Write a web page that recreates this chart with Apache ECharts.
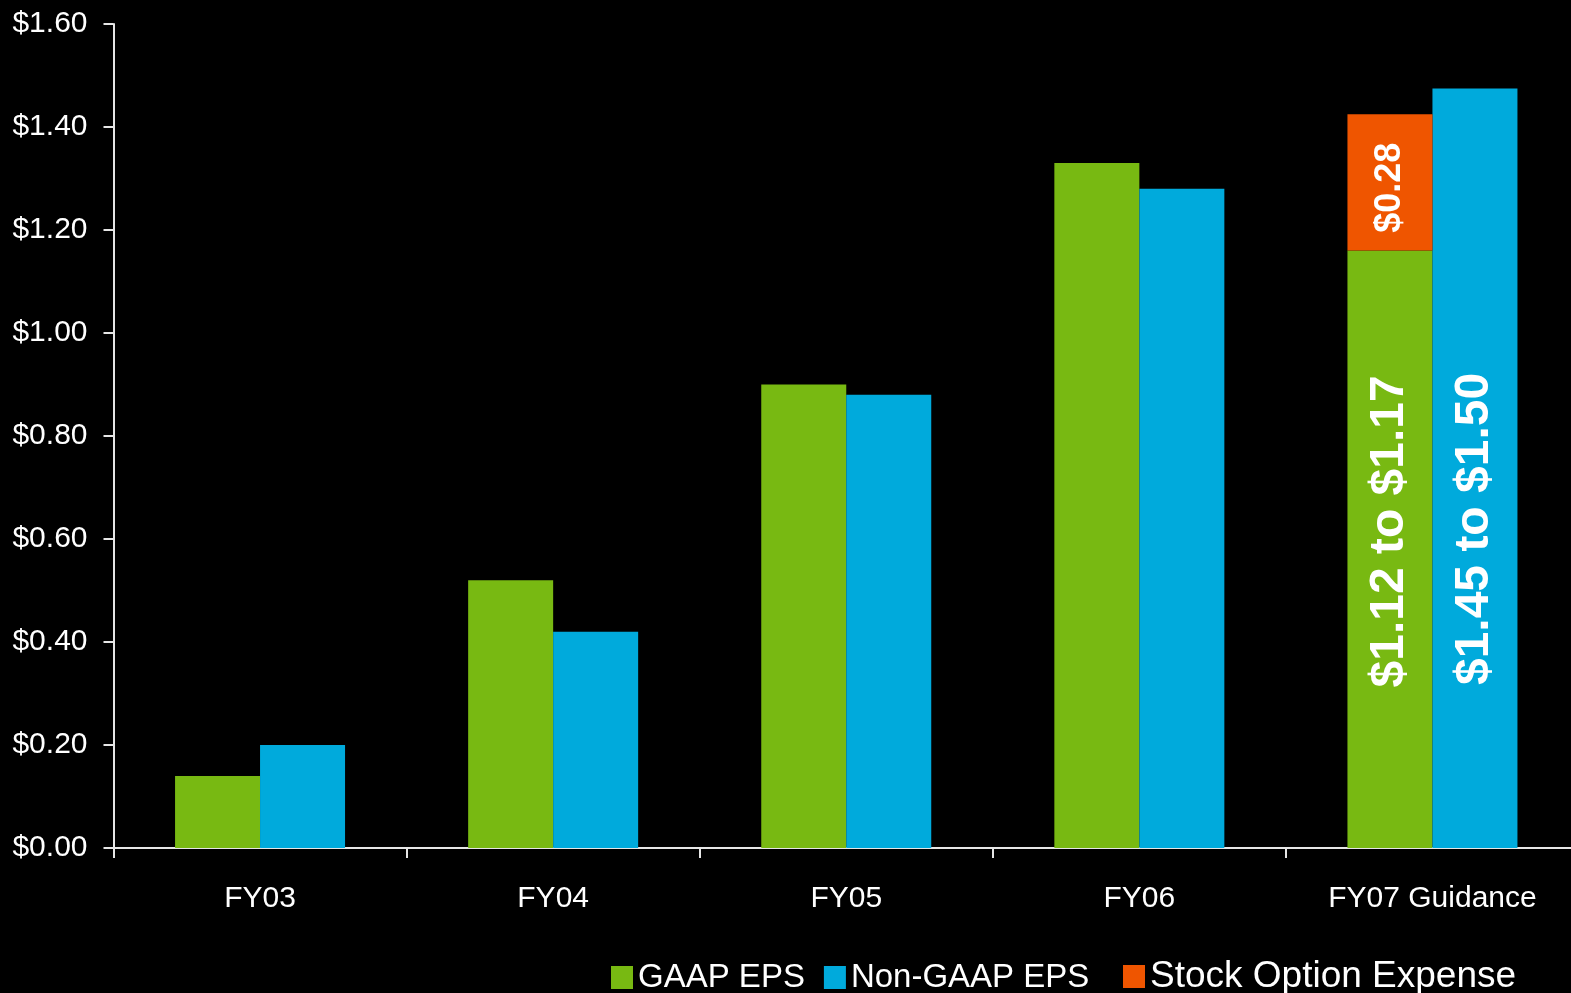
<!DOCTYPE html>
<html>
<head>
<meta charset="utf-8">
<title>EPS</title>
<script src="https://cdn.jsdelivr.net/npm/echarts@6/dist/echarts.min.js"></script>
<style>
  html, body { margin: 0; padding: 0; background: #000; }
  #chart { width: 1571px; height: 993px; }
</style>
</head>
<body>
<div id="chart"></div>
<script>
// data
const categories = ["FY03", "FY04", "FY05", "FY06", "FY07 Guidance"];
const gaapEps = [0.14, 0.52, 0.90, 1.33, 1.16];
const nonGaapEps = [0.20, 0.42, 0.88, 1.28, 1.475];
const stockOption = [null, null, null, null, 0.265];
const gaapLabels = ["", "", "", "", "$1.12 to $1.17"];
const nonGaapLabels = ["", "", "", "", "$1.45 to $1.50"];
const stockLabels = ["", "", "", "", "$0.28"];

const green = "#78b912";
const blue = "#00aadc";
const orange = "#ef5500";
const axisColor = "#e6e6e6";
const font = "Liberation Sans, Arial, sans-serif";

function withLabels(values, labels, labelStyle) {
  return values.map(function (v, i) {
    if (!labels[i]) return v;
    return { value: v, label: Object.assign({ show: true, formatter: labels[i] }, labelStyle) };
  });
}

const bigLabel = {
  rotate: 90,
  color: "#fff",
  fontFamily: font,
  fontWeight: "bold",
  fontSize: 48,
  align: "center",
  verticalAlign: "middle"
};

let chart = echarts.init(document.getElementById("chart"));
let option = {
  backgroundColor: "#000",
  animation: false,
  grid: {
    left: 113.5,
    right: -8,
    top: 24,
    bottom: 145,
    containLabel: false,
    outerBoundsMode: "none"
  },
  legend: [
    {
      data: ["GAAP EPS", "Non-GAAP EPS"],
      left: 606,
      top: 956,
      icon: "rect",
      itemWidth: 22,
      itemHeight: 23,
      itemGap: 19,
      textStyle: { color: "#fff", fontSize: 33, fontFamily: font },
      selectedMode: false
    },
    {
      data: ["Stock Option Expense"],
      left: 1118,
      top: 953,
      icon: "rect",
      itemWidth: 22,
      itemHeight: 23,
      textStyle: { color: "#fff", fontSize: 37, fontFamily: font },
      selectedMode: false
    }
  ],
  xAxis: {
    type: "category",
    data: categories,
    axisLine: { show: true, lineStyle: { color: axisColor, width: 2 } },
    axisTick: { show: true, length: 10, lineStyle: { color: axisColor, width: 2 } },
    axisLabel: { color: "#fff", fontSize: 30, fontFamily: font, margin: 36 }
  },
  yAxis: {
    type: "value",
    min: 0,
    max: 1.6,
    interval: 0.2,
    axisLine: { show: true, lineStyle: { color: axisColor, width: 2 } },
    axisTick: { show: true, length: 10, lineStyle: { color: axisColor, width: 2 } },
    splitLine: { show: false },
    axisLabel: {
      color: "#fff",
      fontSize: 30,
      fontFamily: font,
      margin: 26,
      formatter: function (v) { return "$" + v.toFixed(2); }
    }
  },
  series: [
    {
      name: "GAAP EPS",
      type: "bar",
      stack: "gaap",
      barGap: 0,
      barCategoryGap: "42%",
      itemStyle: { color: green },
      data: withLabels(gaapEps, gaapLabels, Object.assign({ position: ["50%", "47%"] }, bigLabel))
    },
    {
      name: "Non-GAAP EPS",
      type: "bar",
      barGap: 0,
      barCategoryGap: "42%",
      itemStyle: { color: blue },
      data: withLabels(nonGaapEps, nonGaapLabels, Object.assign({ position: ["50%", "58%"] }, bigLabel))
    },
    {
      name: "Stock Option Expense",
      type: "bar",
      stack: "gaap",
      barGap: 0,
      barCategoryGap: "42%",
      itemStyle: { color: orange },
      data: withLabels(stockOption, stockLabels, Object.assign({}, bigLabel, { position: ["50%", "54%"], fontSize: 36 }))
    }
  ]
};

chart.setOption(option);

window.addEventListener("resize", function () {
  chart.resize();
});
</script>
</body>
</html>
